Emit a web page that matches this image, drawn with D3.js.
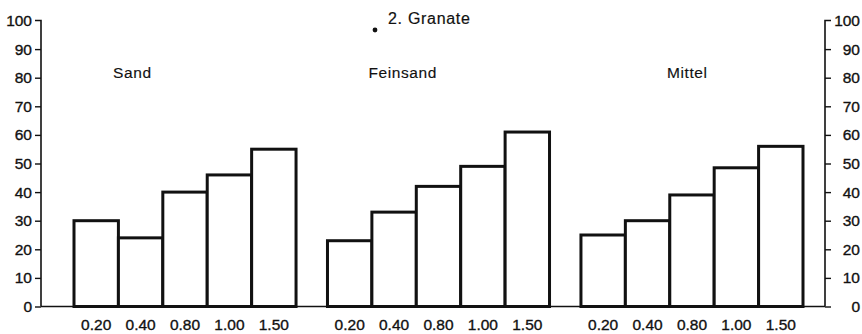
<!DOCTYPE html>
<html>
<head>
<meta charset="utf-8">
<script src="https://cdn.jsdelivr.net/npm/d3@7"></script>
<style>
  html, body { margin: 0; padding: 0; background: #fff; }
  svg { display: block; font-family: "Liberation Sans", Arial, sans-serif; }
  text { fill: #111; stroke: #111; stroke-width: 0.35; }
</style>
</head>
<body>
<svg id="chart" width="862" height="334"></svg>
<script>
// Heavy-mineral share (%) by grain-size class
const title = "2. Granate";
const groups = ["Sand", "Feinsand", "Mittel"];
const sizes = ["0.20", "0.40", "0.80", "1.00", "1.50"];
const sandValues = [30, 24, 40, 46, 55];
const feinsandValues = [23, 33, 42, 49, 61];
const mittelValues = [25, 30, 39, 48.5, 56];
const yTicks = [0, 10, 20, 30, 40, 50, 60, 70, 80, 90, 100];

const seriesByGroup = {
  "Sand": sandValues,
  "Feinsand": feinsandValues,
  "Mittel": mittelValues
};

const svg = d3.select("#chart");
const ink = "#111";

const leftX = 41, rightX = 825;
const y = d3.scaleLinear().domain([0, 100]).range([306.5, 20.5]);

const x0 = d3.scaleBand().domain(groups).range([74, 803]).paddingInner(0.124);
const x1 = d3.scaleBand().domain(sizes).range([0, x0.bandwidth()]).padding(0);

// Left axis
const leftAxis = d3.axisLeft(y).tickValues(yTicks).tickSize(6).tickPadding(3);
const gL = svg.append("g").attr("transform", `translate(${leftX},0)`).call(leftAxis);
gL.select(".domain").attr("d", `M-6,${y(100)}H0V${y(0)}`);

// Right axis
const rightAxis = d3.axisRight(y).tickValues(yTicks).tickSize(6).tickPadding(3);
const gR = svg.append("g").attr("transform", `translate(${rightX},0)`).call(rightAxis);
gR.select(".domain").attr("d", `M6,${y(100)}H0V${y(0)}`);
gR.selectAll(".tick text").attr("text-anchor", "end").attr("x", 35);

[gL, gR].forEach(g => {
  g.select(".domain").attr("stroke", ink).attr("stroke-width", 1.6).attr("fill", "none");
  g.selectAll(".tick line").attr("stroke", ink).attr("stroke-width", 1.4);
  g.selectAll(".tick text")
    .attr("font-size", 15.5)
    .attr("font-family", "Liberation Sans, Arial, sans-serif")
    .attr("fill", ink);
});
gL.selectAll(".tick").filter(d => d === 100).select("line").remove();
gR.selectAll(".tick").filter(d => d === 100).select("line").remove();

// Baseline across all groups
svg.append("line")
  .attr("x1", leftX).attr("x2", rightX)
  .attr("y1", y(0)).attr("y2", y(0))
  .attr("stroke", ink).attr("stroke-width", 1.6);

// Bars
const groupG = svg.selectAll("g.group")
  .data(groups)
  .join("g")
  .attr("class", "group")
  .attr("transform", d => `translate(${x0(d)},0)`);

groupG.selectAll("rect")
  .data(g => sizes.map((s, i) => ({ size: s, value: seriesByGroup[g][i] })))
  .join("rect")
  .attr("x", d => x1(d.size))
  .attr("y", d => y(d.value))
  .attr("width", x1.bandwidth())
  .attr("height", d => y(0) - y(d.value))
  .attr("fill", "#fff")
  .attr("stroke", ink)
  .attr("stroke-width", 3);

// Size-class labels under each group
groupG.selectAll("text.size")
  .data(sizes)
  .join("text")
  .attr("class", "size")
  .attr("x", d => x1(d) + x1.bandwidth() / 2)
  .attr("y", 330)
  .attr("text-anchor", "middle")
  .attr("font-size", 15.5)
  .text(d => d);

// Group names
const labelOffset = { "Sand": 39, "Feinsand": 41, "Mittel": 86 };
svg.selectAll("text.gname")
  .data(groups)
  .join("text")
  .attr("class", "gname")
  .attr("x", d => x0(d) + labelOffset[d])
  .attr("y", 78)
  .attr("font-size", 15.5)
  .attr("letter-spacing", 0.6)
  .style("stroke-width", 0.15)
  .text(d => d);

// Title with leading dot
svg.append("circle").attr("cx", 375).attr("cy", 30).attr("r", 2.4).attr("fill", ink);
svg.append("text")
  .attr("x", 388).attr("y", 24)
  .attr("font-size", 16)
  .attr("letter-spacing", 0.7)
  .style("stroke-width", 0.2)
  .text(title);
</script>
</body>
</html>
